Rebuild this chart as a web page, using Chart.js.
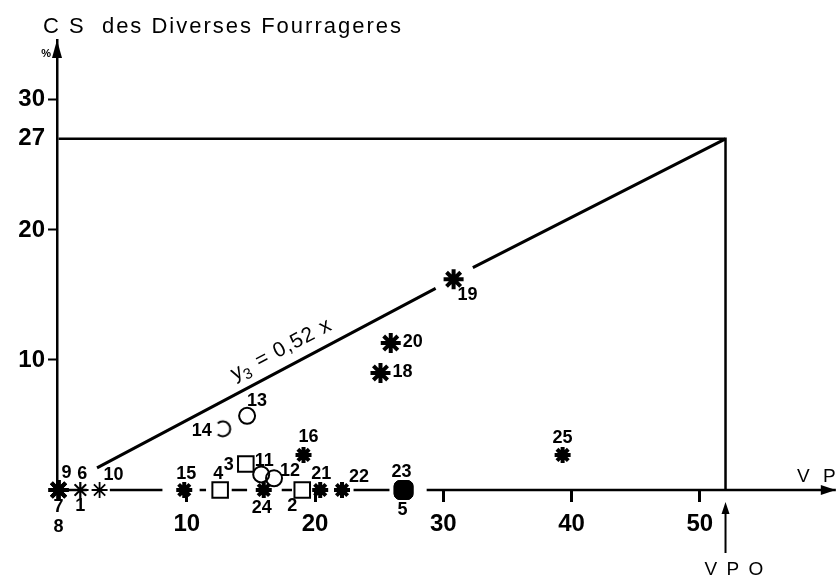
<!DOCTYPE html>
<html>
<head>
<meta charset="utf-8">
<script src="https://cdn.jsdelivr.net/npm/chart.js@4"></script>
<style>
html,body{margin:0;padding:0;background:#fff;}
</style>
</head>
<body>
<canvas id="chart" width="837" height="576"></canvas>
<script>
// values: VP on x, CS (%) on y
const starIds = ['7', '8', '9', '6', '1', '10', '15', '24', '16', '21', '22', '19', '20', '18', '25'];
const starVP  = [0, 0, 0, 1.7, 1.7, 3.2, 9.8, 16.0, 19.1, 20.4, 22.1, 30.8, 25.9, 25.1, 39.3];
const starCS  = [0, 0, 0, 0, 0, 0, 0, 0, 2.7, 0, 0, 16.2, 11.3, 9.0, 2.7];

const squareIds = ['4', '3', '2'];
const squareVP  = [12.6, 14.6, 19.0];
const squareCS  = [0, 2.0, 0];

const circleIds = ['11', '12', '13', '14'];
const circleVP  = [15.8, 16.8, 14.7, 12.8];
const circleCS  = [1.2, 0.9, 5.7, 4.7];

const blobIds = ['23', '5'];
const blobVP  = [26.9, 26.9];
const blobCS  = [0, 0];

// y3 = 0,52 x  (broken around sample 19)
const lineVP = [3.0, 29.4, 30.8, 32.3, 52];
const lineCS = [1.7, 15.5, null, 17.1, 27];

// VPO guide: 27 % level and VP = 52
const guideVP = [0, 52, 52];
const guideCS = [27, 27, 0];

const xTicks = [10, 20, 30, 40, 50];
const yTicks = [10, 20, 27, 30];

// hand drawn x axis is broken between the markers
const axisPieces = [[0, 2.2], [4.0, 8.1], [11.0, 11.5], [13.5, 14.7], [17.4, 18.2], [23.0, 25.8], [28.7, 60.6]];

const FONT = "'Liberation Sans', Arial, sans-serif";

// label offsets in px from the marker (dx, dy)
const labelPos = {
    '7': [0, 17], '8': [0, 37], '9': [8, -17], '6': [2, -16], '1': [0, 16], '10': [14, -15],
    '15': [2, -16], '24': [-2, 18], '16': [5, -18], '21': [1, -16], '22': [17, -13],
    '19': [14, 16], '20': [22, -1], '18': [22, -1], '25': [0, -17],
    '4': [-2, -16], '3': [-17, 1], '2': [-10, 16],
    '11': [3, -13], '12': [16, -7], '13': [10, -15], '14': [-21, 2],
    '23': [-2, -18], '5': [-1, 20]
};
const thinStars = ['6', '1', '10'];
const bigStars = ['7', '8', '9', '18', '19', '20'];

function pts(xs, ys) {
    return xs.map((x, i) => ({x: x, y: ys[i]}));
}

// open arc marker for sample 14
const arc14 = document.createElement('canvas');
arc14.width = 20; arc14.height = 20;
(function () {
    const c = arc14.getContext('2d');
    c.lineWidth = 2;
    c.strokeStyle = '#000';
    c.beginPath();
    c.arc(10, 10, 7.5, -2.3, 2.3);
    c.stroke();
})();

const decor = {
    id: 'decor',
    afterDatasetsDraw(chart) {
        const ctx = chart.ctx;
        const xs = chart.scales.x, ys = chart.scales.y;
        const y0 = ys.getPixelForValue(0);
        ctx.save();
        ctx.strokeStyle = '#000';
        ctx.fillStyle = '#000';
        ctx.lineWidth = 2.5;
        ctx.lineCap = 'butt';

        // x axis pieces (the last one runs on to the arrow)
        axisPieces.forEach(p => {
            ctx.beginPath();
            ctx.moveTo(xs.getPixelForValue(p[0]), y0);
            ctx.lineTo(xs.getPixelForValue(p[1]), y0);
            ctx.stroke();
        });
        // arrow heads
        const xr = xs.getPixelForValue(60.6);
        ctx.beginPath();
        ctx.moveTo(xr, y0); ctx.lineTo(xr - 15, y0 - 5); ctx.lineTo(xr - 15, y0 + 5); ctx.closePath(); ctx.fill();
        const xl = chart.chartArea.left, yt = chart.chartArea.top;
        ctx.beginPath();
        ctx.moveTo(xl, yt); ctx.lineTo(xl - 5, yt + 18); ctx.lineTo(xl + 5, yt + 18); ctx.closePath(); ctx.fill();

        // VPO arrow
        const xv = xs.getPixelForValue(52);
        ctx.lineWidth = 2;
        ctx.beginPath();
        ctx.moveTo(xv, y0 + 22); ctx.lineTo(xv, y0 + 63); ctx.stroke();
        ctx.beginPath();
        ctx.moveTo(xv, y0 + 12); ctx.lineTo(xv - 4, y0 + 24); ctx.lineTo(xv + 4, y0 + 24); ctx.closePath(); ctx.fill();

        // point labels
        ctx.font = 'bold 18px ' + FONT;
        ctx.textAlign = 'center';
        ctx.textBaseline = 'middle';
        chart.data.datasets.forEach((ds, di) => {
            if (!ds.ids) return;
            chart.getDatasetMeta(di).data.forEach((el, i) => {
                const off = labelPos[ds.ids[i]] || [0, -16];
                ctx.fillText(ds.ids[i], el.x + off[0], el.y + off[1]);
            });
        });

        // texts
        ctx.textAlign = 'left';
        ctx.textBaseline = 'alphabetic';
        ctx.font = '22px ' + FONT;
        ctx.letterSpacing = '2px';
        ctx.fillText('C S  des Diverses Fourrageres', 43, 33);
        ctx.font = '19px ' + FONT;
        ctx.letterSpacing = '4px';
        ctx.fillText('V P', 797, y0 - 8);
        ctx.letterSpacing = '2px';
        ctx.fillText('V P O', xv - 21, 575);
        ctx.letterSpacing = '0px';
        ctx.font = 'bold 11px ' + FONT;
        ctx.textAlign = 'right';
        ctx.fillText('%', xl - 6, 57);

        // equation along the line
        const ax = xs.getPixelForValue(lineVP[0]), ay = ys.getPixelForValue(lineCS[0]);
        const bx = xs.getPixelForValue(lineVP[4]), by = ys.getPixelForValue(lineCS[4]);
        const ang = Math.atan2(by - ay, bx - ax);
        ctx.translate(xs.getPixelForValue(14.3), ys.getPixelForValue(7.4));
        ctx.rotate(ang);
        ctx.textAlign = 'left';
        ctx.font = '21px ' + FONT;
        ctx.fillText('y', 0, -15);
        let w = ctx.measureText('y').width;
        ctx.font = '15px ' + FONT;
        ctx.fillText('3', w, -10);
        w += ctx.measureText('3').width + 2;
        ctx.font = '21px ' + FONT;
        ctx.letterSpacing = '1px';
        ctx.fillText(' = 0,52 x', w, -15);
        ctx.restore();
    }
};

new Chart(document.getElementById('chart').getContext('2d'), {
    type: 'scatter',
    data: {
        datasets: [
            {
                ids: starIds,
                data: pts(starVP, starCS),
                clip: false,
                pointStyle: 'star',
                pointRadius: c => bigStars.includes(starIds[c.dataIndex]) ? 10 : 8,
                pointBorderWidth: c => thinStars.includes(starIds[c.dataIndex]) ? 1.8 : 4,
                borderColor: '#000',
                backgroundColor: '#000'
            },
            {
                ids: squareIds,
                data: pts(squareVP, squareCS),
                clip: false,
                pointStyle: 'rect',
                pointRadius: 11,
                pointBorderWidth: 2,
                borderColor: '#000',
                backgroundColor: '#fff'
            },
            {
                ids: circleIds,
                data: pts(circleVP, circleCS),
                clip: false,
                pointStyle: c => circleIds[c.dataIndex] === '14' ? arc14 : 'circle',
                pointRadius: 8,
                pointBorderWidth: 2,
                borderColor: '#000',
                backgroundColor: 'rgba(0,0,0,0)'
            },
            {
                ids: blobIds,
                data: pts(blobVP, blobCS),
                clip: false,
                pointStyle: 'rectRounded',
                pointRadius: 11,
                pointBorderWidth: 1,
                borderColor: '#000',
                backgroundColor: '#000'
            },
            {
                data: pts(lineVP, lineCS),
                showLine: true,
                spanGaps: false,
                pointRadius: 0,
                borderWidth: 3,
                borderColor: '#000'
            },
            {
                data: pts(guideVP, guideCS),
                showLine: true,
                pointRadius: 0,
                borderWidth: 2.5,
                borderColor: '#000'
            }
        ]
    },
    options: {
        responsive: false,
        devicePixelRatio: 1,
        animation: false,
        layout: {padding: {top: 40, right: 2, left: 0, bottom: 36}},
        plugins: {legend: {display: false}, tooltip: {enabled: false}},
        scales: {
            x: {
                type: 'linear',
                min: -0.12,
                max: 59.6,
                afterBuildTicks: s => { s.ticks = xTicks.map(v => ({value: v})); },
                afterFit: s => { s.height = 50; },
                border: {display: false},
                grid: {drawOnChartArea: false, tickLength: 12, tickWidth: 3, tickColor: '#000'},
                ticks: {color: '#000', padding: 8, font: {family: FONT, size: 24, weight: 'bold'}}
            },
            y: {
                type: 'linear',
                min: 0,
                max: 34.6,
                afterBuildTicks: s => { s.ticks = yTicks.map(v => ({value: v})); },
                afterFit: s => { s.width = 57; },
                border: {display: true, color: '#000', width: 2.5},
                grid: {
                    drawOnChartArea: false, tickLength: 9, tickWidth: 2,
                    tickColor: c => (c.tick && c.tick.value === 27) ? 'rgba(0,0,0,0)' : '#000'
                },
                ticks: {color: '#000', padding: 3, font: {family: FONT, size: 24, weight: 'bold'}}
            }
        }
    },
    plugins: [decor]
});
</script>
</body>
</html>
